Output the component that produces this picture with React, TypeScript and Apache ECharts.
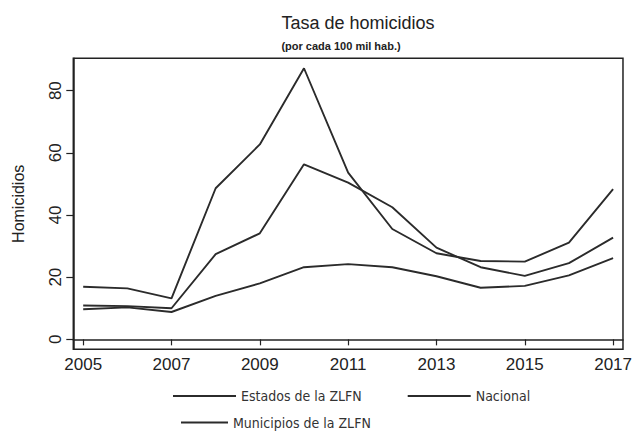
import React, { useEffect, useRef } from "react";
import * as echarts from "echarts";

const years = [2005, 2006, 2007, 2008, 2009, 2010, 2011, 2012, 2013, 2014, 2015, 2016, 2017];
const estados = [16.9, 16.4, 13.2, 48.6, 62.7, 87.2, 53.6, 35.5, 27.7, 25.2, 25.0, 31.1, 48.3];
const municipios = [10.9, 10.7, 10.0, 27.4, 34.1, 56.3, 50.4, 42.5, 29.5, 23.2, 20.4, 24.5, 32.7];
const nacional = [9.7, 10.3, 8.8, 14.0, 18.0, 23.2, 24.2, 23.2, 20.3, 16.6, 17.2, 20.6, 26.1];
const xTicks = [2005, 2007, 2009, 2011, 2013, 2015, 2017];
const yTicks = [0, 20, 40, 60, 80];

const titleText = "Tasa de homicidios";
const subtitleText = "(por cada 100 mil hab.)";
const yName = "Homicidios";
const names = ["Estados de la ZLFN", "Nacional", "Municipios de la ZLFN"];

export default function App() {
  const ref = useRef<HTMLDivElement>(null);
  useEffect(() => {
    if (!ref.current) return;
    const chart = echarts.init(ref.current, null, { renderer: "svg" });
    const lineColor = "#2b2b2b";
    const pairs = (arr: number[]) => years.map((y, i) => [y, arr[i]]);
    const mkSeries = (name: string, arr: number[]) => ({
      name,
      type: "line",
      data: pairs(arr),
      symbol: "none",
      lineStyle: { color: lineColor, width: 1.9 },
      itemStyle: { color: lineColor },
    });
    const legendFont = { fontFamily: "DejaVu Sans Condensed, Liberation Sans", fontSize: 14, color: "#333" };
    chart.setOption({
      animation: false,
      backgroundColor: "#ffffff",
      title: [
        {
          text: titleText,
          left: 353,
          top: 9,
          textAlign: "center",
          textStyle: { fontFamily: "Liberation Sans", fontSize: 18, fontWeight: "normal", color: "#222" },
        },
        {
          text: subtitleText,
          left: 336,
          top: 35,
          textAlign: "center",
          textStyle: { fontFamily: "Liberation Sans", fontSize: 11, fontWeight: "bold", color: "#222" },
        },
      ],
      grid: {
        left: 73.3,
        right: 5.7,
        top: 58.3,
        bottom: 84.7,
        show: true,
        borderColor: "#222",
        borderWidth: 1.5,
        backgroundColor: "transparent",
      },
      legend: [
        {
          data: [names[0], names[1]],
          left: 168,
          top: 384,
          icon: "rect",
          itemWidth: 63,
          itemHeight: 1.8,
          itemGap: 46,
          textStyle: legendFont,
        },
        {
          data: [names[2]],
          left: 176,
          top: 410.5,
          icon: "rect",
          itemWidth: 47,
          itemHeight: 1.8,
          textStyle: legendFont,
        },
      ],
      xAxis: {
        type: "value",
        min: 2004.776,
        max: 2017.224,
        axisLine: { show: true, lineStyle: { color: "#222", width: 1.5 } },
        axisTick: { show: true, customValues: xTicks, length: 6, lineStyle: { color: "#222", width: 1.2 } },
        axisLabel: {
          customValues: xTicks,
          formatter: (v: number) => String(v),
          fontFamily: "Liberation Sans",
          fontSize: 17,
          color: "#222",
          margin: 7,
        },
        splitLine: { show: false },
      },
      yAxis: {
        type: "value",
        min: -3.2,
        max: 90.4,
        name: yName,
        nameLocation: "middle",
        nameRotate: 90,
        nameGap: 47,
        nameTextStyle: { fontFamily: "Liberation Sans", fontSize: 16, color: "#222" },
        axisLine: { show: true, lineStyle: { color: "#222", width: 1.5 } },
        axisTick: { show: true, customValues: yTicks, length: 7, lineStyle: { color: "#222", width: 1.2 } },
        axisLabel: {
          customValues: yTicks,
          rotate: 90,
          fontFamily: "Liberation Sans",
          fontSize: 17,
          color: "#222",
          margin: 9,
        },
        splitLine: { show: false },
      },
      series: [
        mkSeries(names[0], estados),
        mkSeries(names[1], nacional),
        mkSeries(names[2], municipios),
      ],
    });
    return () => chart.dispose();
  }, []);
  return <div ref={ref} style={{ position: "absolute", left: 0, top: 0, width: 635, height: 434 }} />;
}
